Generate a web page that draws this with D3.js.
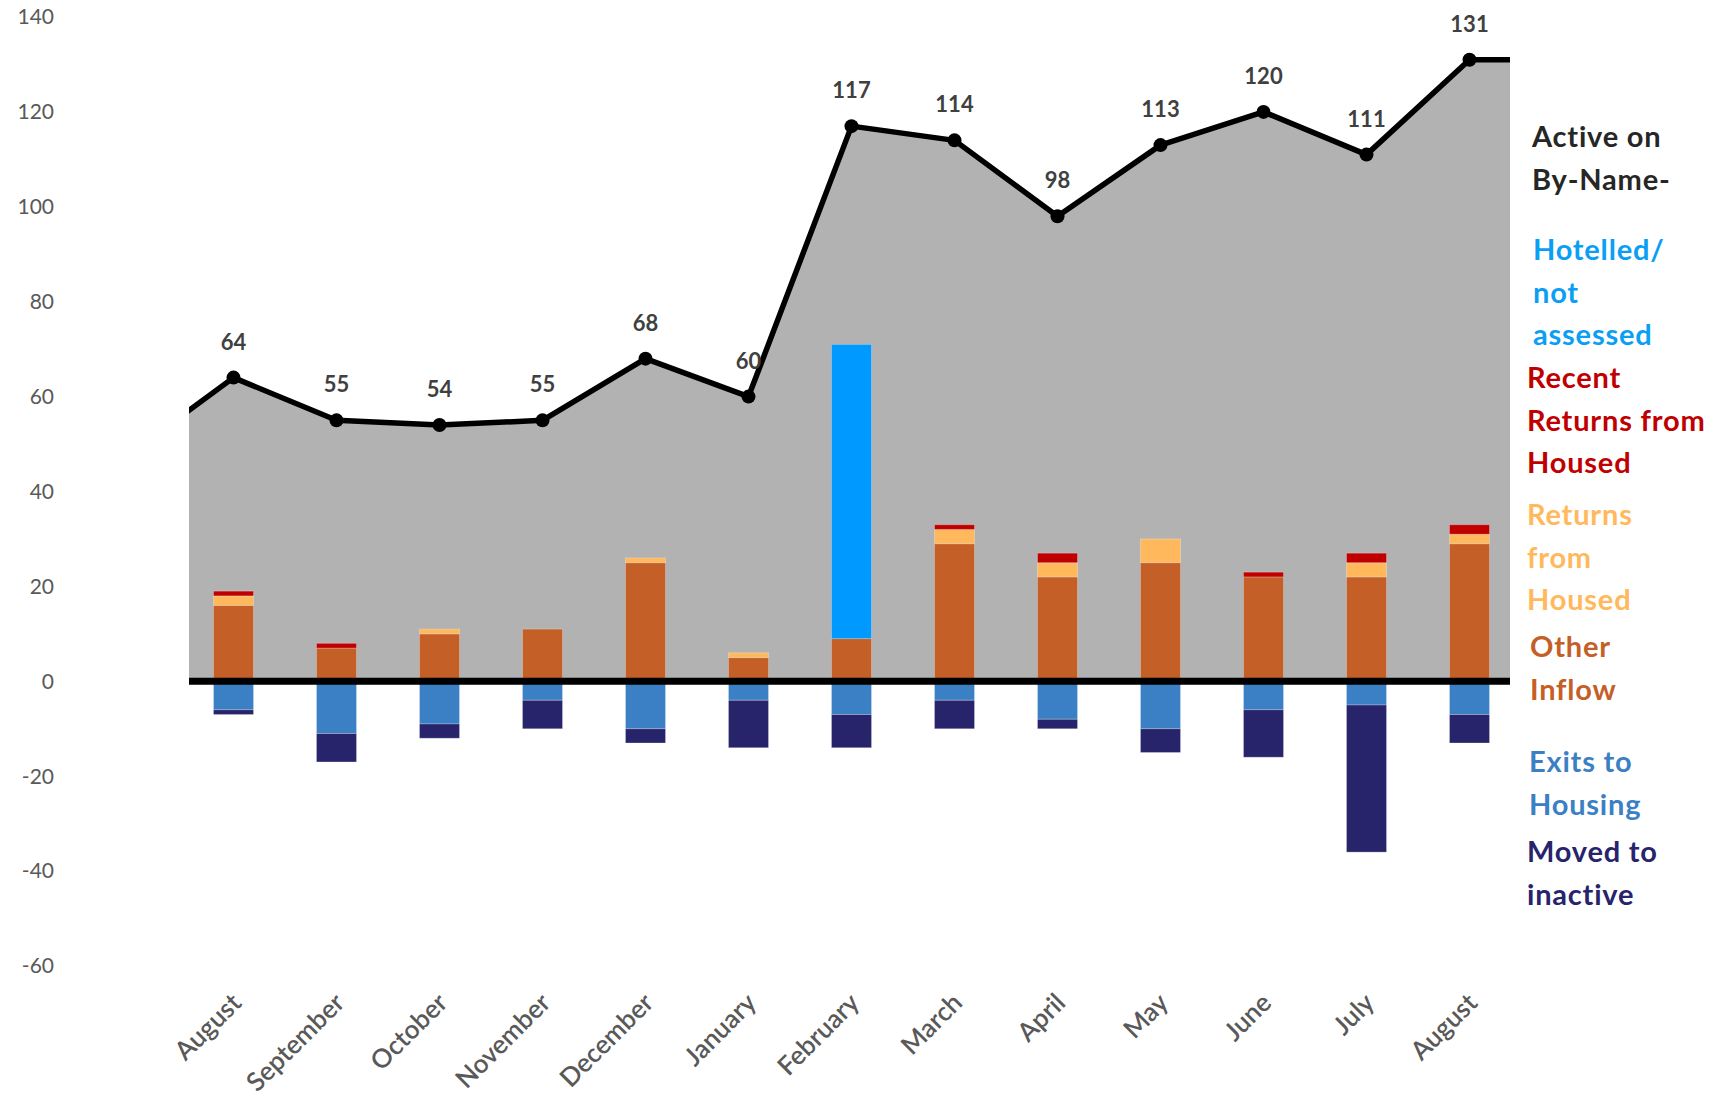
<!DOCTYPE html>
<html>
<head>
<meta charset="utf-8">
<script src="https://cdn.jsdelivr.net/npm/d3@7"></script>
<style>
  body { margin: 0; background: #fff; }
  svg { display: block; font-family: Lato, "Open Sans", sans-serif; }
</style>
</head>
<body>
<svg id="chart" width="1726" height="1098"></svg>
<script>
const months = ["August", "September", "October", "November", "December", "January",
  "February", "March", "April", "May", "June", "July", "August"];
const active = [64, 55, 54, 55, 68, 60, 117, 114, 98, 113, 120, 111, 131];
const activeBefore = 48;   // month before the window, clipped at the left edge
const activeAfter = 131;   // month after the window, clipped at the right edge

const otherInflow   = [16, 7, 10, 11, 25, 5, 9, 29, 22, 25, 22, 22, 29];
const returnsHoused = [2, 0, 1, 0, 1, 1, 0, 3, 3, 5, 0, 3, 2];
const recentReturns = [1, 1, 0, 0, 0, 0, 0, 1, 2, 0, 1, 2, 2];
const hotelled      = [0, 0, 0, 0, 0, 0, 62, 0, 0, 0, 0, 0, 0];
const exitsHousing  = [6, 11, 9, 4, 10, 4, 7, 4, 8, 10, 6, 5, 7];
const movedInactive = [1, 6, 3, 6, 3, 10, 7, 6, 2, 5, 10, 31, 6];

const yTicks = [140, 120, 100, 80, 60, 40, 20, 0, -20, -40, -60];

const colors = {
  area: "#b2b2b2",
  other: "#c55f28",
  returns: "#ffb95c",
  recent: "#c00000",
  hotelled: "#0099ff",
  exits: "#3b80c4",
  inactive: "#27246b"
};

const svg = d3.select("#chart");
const plotLeft = 189, plotRight = 1510;

const x = d3.scaleLinear().domain([0, months.length - 1]).range([233.5, 1469.5]);
const y = d3.scaleLinear().domain([-60, 140]).range([966, 17]);
const barW = 40;

svg.append("defs").append("clipPath").attr("id", "plotclip")
  .append("rect")
  .attr("x", plotLeft).attr("y", 0)
  .attr("width", plotRight - plotLeft).attr("height", 1098);

// y tick labels
svg.append("g").selectAll("text")
  .data(yTicks)
  .join("text")
  .attr("x", 54)
  .attr("y", d => y(d))
  .attr("dy", "0.35em")
  .attr("text-anchor", "end")
  .attr("fill", "#595959")
  .attr("font-size", 21)
  .text(d => d);

// grey area under the active line
const linePts = [[-1, activeBefore]].concat(active.map((v, i) => [i, v])).concat([[months.length, activeAfter]]);
const gClip = svg.append("g").attr("clip-path", "url(#plotclip)");

gClip.append("path")
  .datum(linePts)
  .attr("fill", colors.area)
  .attr("d", d3.area().x(d => x(d[0])).y0(y(0)).y1(d => y(d[1])));

// stacked bars
const posSeries = [
  { key: "other", values: otherInflow },
  { key: "returns", values: returnsHoused },
  { key: "recent", values: recentReturns },
  { key: "hotelled", values: hotelled }
];
const negSeries = [
  { key: "exits", values: exitsHousing },
  { key: "inactive", values: movedInactive }
];

const segs = [];
months.forEach((m, i) => {
  let base = 0;
  posSeries.forEach(s => {
    const v = s.values[i];
    if (v > 0) segs.push({ i, key: s.key, y0: base, y1: base + v });
    base += v;
  });
  base = 0;
  negSeries.forEach(s => {
    const v = s.values[i];
    if (v > 0) segs.push({ i, key: s.key, y0: base, y1: base - v });
    base -= v;
  });
});

svg.append("g").selectAll("rect")
  .data(segs)
  .join("rect")
  .attr("x", d => x(d.i) - barW / 2)
  .attr("width", barW)
  .attr("y", d => Math.min(y(d.y0), y(d.y1)))
  .attr("height", d => Math.abs(y(d.y0) - y(d.y1)))
  .attr("fill", d => colors[d.key])
  .attr("stroke", "rgba(255,255,255,0.25)")
  .attr("stroke-width", 1);

// zero line
svg.append("line")
  .attr("x1", plotLeft).attr("x2", plotRight)
  .attr("y1", y(0)).attr("y2", y(0))
  .attr("stroke", "#000")
  .attr("stroke-width", 7);

// active line + markers
gClip.append("path")
  .datum(linePts)
  .attr("fill", "none")
  .attr("stroke", "#000")
  .attr("stroke-width", 5.5)
  .attr("stroke-linejoin", "round")
  .attr("d", d3.line().x(d => x(d[0])).y(d => y(d[1])));

svg.append("g").selectAll("circle")
  .data(active)
  .join("circle")
  .attr("cx", (d, i) => x(i))
  .attr("cy", d => y(d))
  .attr("r", 7)
  .attr("fill", "#000");

svg.append("g").selectAll("text")
  .data(active)
  .join("text")
  .attr("x", (d, i) => x(i))
  .attr("y", d => y(d) - 28)
  .attr("text-anchor", "middle")
  .attr("font-weight", "bold")
  .attr("font-size", 22)
  .attr("fill", "#404040")
  .text(d => d);

// month labels
svg.append("g").selectAll("text")
  .data(months)
  .join("text")
  .attr("transform", (d, i) => `translate(${x(i) + 3},${998}) rotate(-45)`)
  .attr("dy", "0.35em")
  .attr("text-anchor", "end")
  .attr("fill", "#595959")
  .attr("font-size", 26)
  .attr("font-weight", 600)
  .text(d => d);

// legend text on the right
const legend = [
  { lines: ["Active on", "By-Name-"], color: "#262626", x: 1532, y: 147 },
  { lines: ["Hotelled/", "not", "assessed"], color: "#0a9ff5", x: 1533, y: 260 },
  { lines: ["Recent", "Returns from", "Housed"], color: "#c00000", x: 1527, y: 388 },
  { lines: ["Returns", "from", "Housed"], color: "#ffb95c", x: 1527, y: 525 },
  { lines: ["Other", "Inflow"], color: "#c55f28", x: 1530, y: 657 },
  { lines: ["Exits to", "Housing"], color: "#3b80c4", x: 1529, y: 772 },
  { lines: ["Moved to", "inactive"], color: "#27246b", x: 1527, y: 862 }
];

const lg = svg.append("g")
  .attr("font-weight", "bold")
  .attr("font-size", 29)
  .attr("letter-spacing", 0.8);
legend.forEach(item => {
  const t = lg.append("text")
    .attr("x", item.x).attr("y", item.y)
    .attr("fill", item.color);
  item.lines.forEach((line, k) => {
    t.append("tspan")
      .attr("x", item.x)
      .attr("dy", k === 0 ? 0 : 42.5)
      .text(line);
  });
});
</script>
</body>
</html>
